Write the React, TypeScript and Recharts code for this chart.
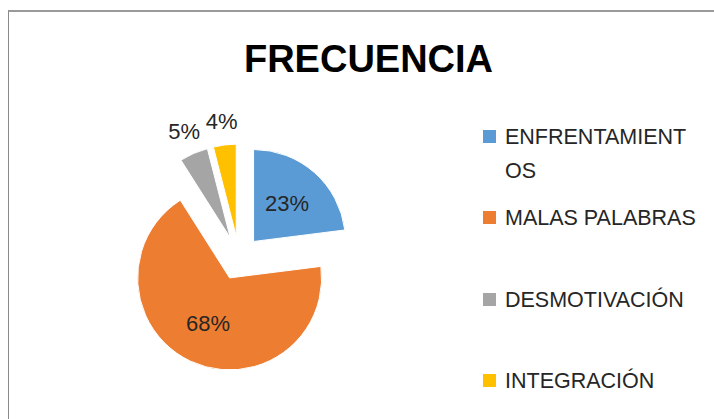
import { Cell, Legend, Pie, PieChart, Sector } from 'recharts'

const categories = ['ENFRENTAMIENTOS', 'MALAS PALABRAS', 'DESMOTIVACIÓN', 'INTEGRACIÓN']
const values = [23, 68, 5, 4]
const colors = ['#5B9BD5', '#ED7D31', '#A5A5A5', '#FFC000']

const data = categories.map((name, i) => ({ name, value: values[i] }))

const RAD = Math.PI / 180
const EXPLODE = 22
const FONT = '"Liberation Sans", Arial, sans-serif'

// each slice is pulled out from the centre along its mid angle
function ExplodedSlice(props: any) {
  const { cx, cy, midAngle, innerRadius, outerRadius, startAngle, endAngle, fill } = props
  const dx = EXPLODE * Math.cos(-midAngle * RAD)
  const dy = EXPLODE * Math.sin(-midAngle * RAD)
  return (
    <Sector
      cx={cx + dx}
      cy={cy + dy}
      innerRadius={innerRadius}
      outerRadius={outerRadius}
      startAngle={startAngle}
      endAngle={endAngle}
      fill={fill}
      stroke="#fff"
      strokeWidth={1}
    />
  )
}

function SliceLabel(props: any) {
  const { cx, cy, midAngle, outerRadius, percent } = props
  const cos = Math.cos(-midAngle * RAD)
  const sin = Math.sin(-midAngle * RAD)
  // big slices get the label inside, small ones outside
  const r = percent > 0.1 ? EXPLODE + outerRadius * 0.55 : EXPLODE + outerRadius + 24
  return (
    <text
      x={cx + r * cos}
      y={cy + r * sin}
      textAnchor="middle"
      dominantBaseline="central"
      fill="#262626"
      fontSize={22}
      fontFamily={FONT}
    >
      {`${Math.round(percent * 100)}%`}
    </text>
  )
}

function LegendBox(props: any) {
  // keep the data order, not the alphabetical one
  const items = [...(props.payload || [])].sort(
    (a: any, b: any) => categories.indexOf(a.value) - categories.indexOf(b.value)
  )
  return (
    <div style={{ fontFamily: FONT, fontSize: 21.5, lineHeight: '34px', color: '#262626' }}>
      {items.map((it: any, i: number) => (
        <div key={i} style={{ display: 'flex', alignItems: 'flex-start', height: 81.3 }}>
          <div
            style={{
              width: 13,
              height: 13,
              marginTop: 10,
              marginRight: 9,
              background: it.color,
              flex: 'none',
            }}
          />
          <div style={{ width: 196, overflowWrap: 'anywhere' }}>{it.value}</div>
        </div>
      ))}
    </div>
  )
}

export default function App() {
  return (
    <div style={{ position: 'absolute', left: 0, top: 0, width: 714, height: 419, overflow: 'hidden', background: '#fff' }}>
      <div
        style={{
          position: 'absolute',
          left: 8,
          top: 10,
          width: 760,
          height: 460,
          borderLeft: '1px solid #8a8a8a',
          borderTop: '2px solid #9a9a9a',
        }}
      />
      <div
        style={{
          position: 'absolute',
          left: 0,
          top: 40,
          width: 737,
          textAlign: 'center',
          fontFamily: FONT,
          fontWeight: 'bold',
          fontSize: 38,
          lineHeight: '38px',
          color: '#000',
        }}
      >
        FRECUENCIA
      </div>
      <div style={{ position: 'absolute', left: 0, top: 0 }}>
        <PieChart width={714} height={419} margin={{ top: 0, right: 0, bottom: 0, left: 0 }}>
          <Pie
            data={data}
            dataKey="value"
            nameKey="name"
            cx={239}
            cy={258}
            outerRadius={92}
            startAngle={90}
            endAngle={-270}
            shape={ExplodedSlice}
            label={SliceLabel}
            labelLine={false}
            isAnimationActive={false}
          >
            {data.map((d, i) => (
              <Cell key={d.name} fill={colors[i]} />
            ))}
          </Pie>
          <Legend
            content={LegendBox}
            wrapperStyle={{ position: 'absolute', left: 483, top: 120, width: 230, bottom: 'auto', right: 'auto' }}
          />
        </PieChart>
      </div>
    </div>
  )
}
